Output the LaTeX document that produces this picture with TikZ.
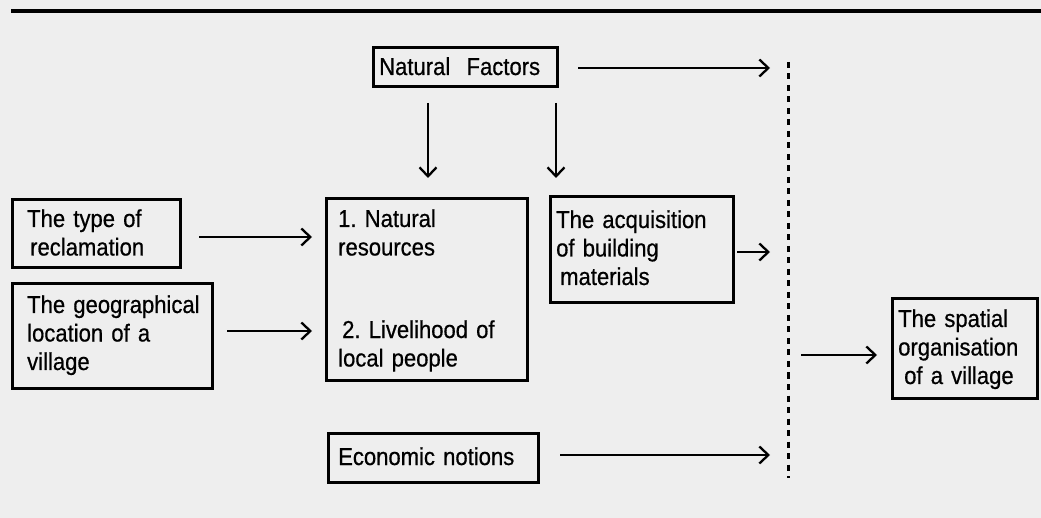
\documentclass[tikz,border=0pt]{standalone}
\usepackage{fontspec}
\setmainfont{Liberation Sans}[FakeStretch=0.9,FakeBold=0.6]
\usetikzlibrary{arrows.meta,calc}
\definecolor{paper}{RGB}{238,238,238}
\frenchspacing
\begin{document}
\begin{tikzpicture}[x=1pt,y=-1pt,
  boxnode/.style={draw=black,line width=3pt,rectangle,inner sep=0pt,outer sep=0pt,anchor=north west},
  txt/.style={anchor=base west,inner sep=0pt,align=left,text width=#1,
    font=\fontsize{24.5}{28.5}\selectfont},
  txt/.default=200pt,
  arr/.style={line width=2.3pt,-{Straight Barb[length=9pt,width=17pt,line width=2.3pt]}},
  rule/.style={line width=3.4pt},
  divider/.style={line width=3pt,dash pattern=on 6pt off 5.5pt}]
\fill[paper] (0,0) rectangle (1041,518);
\useasboundingbox (0,0) rectangle (1041,518);
% top rule
\coordinate (rl) at (11,11);
\coordinate (rr) at (1041,11);
\draw[rule] (rl) -- (rr);
% boxes
\node[boxnode,minimum width=184pt,minimum height=39pt] (nf) at (373,48) {};
\node[boxnode,minimum width=168pt,minimum height=68pt] (type) at (12,200) {};
\node[boxnode,minimum width=200pt,minimum height=104pt] (geo) at (12,284) {};
\node[boxnode,minimum width=201pt,minimum height=181pt] (mid) at (326,199) {};
\node[boxnode,minimum width=183pt,minimum height=106pt] (acq) at (550,197) {};
\node[boxnode,minimum width=145pt,minimum height=99pt] (spat) at (892,299) {};
\node[boxnode,minimum width=210pt,minimum height=49pt] (econ) at (328,433) {};
% texts
\node[txt] (nft) at (379,75) {Natural\ \ Factors};
\node[txt] (typet) at (27,227) {The type of\\\hspace*{3pt}reclamation};
\node[txt] (geot) at (27,313) {The geographical\\location of a\\village};
\node[txt] (midt1) at (338,227) {1. Natural\\resources};
\node[txt] (midt2) at (338,338) {\hspace*{4pt}2. Livelihood of\\local people};
\node[txt] (acqt) at (556,228) {The acquisition\\of building\\\hspace*{4pt}materials};
\node[txt] (spatt) at (898,327) {The spatial\\organisation\\\hspace*{6pt}of a village};
\node[txt] (econt) at (338,465) {Economic notions};
% dashed divider
\coordinate (dtop) at (788,62);
\coordinate (dbot) at (788,478);
\draw[divider] (dtop) -- (dbot);
% connectors
\draw[arr] ($(nf.east)+(21,0.5)$) -- ($(nf.east -| dtop)+(-18,0.5)$);
\draw[arr] ($(nf.south west)+(55,16)$) -- ($(mid.north west)+(102,-21)$);
\draw[arr] ($(nf.south east)+(-1,16)$) -- ($(acq.north west)+(6,-19)$);
\draw[arr] ($(type.east)+(19,3)$) -- ($(mid.west |- type.east)+(-14,3)$);
\draw[arr] ($(geo.east)+(15,-5)$) -- ($(mid.west |- geo.east)+(-14,-5)$);
\draw[arr] ($(acq.east)+(4,2)$) -- ($(acq.east -| dtop)+(-18,2)$);
\draw[arr] ($(spat.west -| dtop)+(13,6.5)$) -- ($(spat.west)+(-15,6.5)$);
\draw[arr] ($(econ.east)+(22,-2.5)$) -- ($(econ.east -| dtop)+(-18,-2.5)$);
\end{tikzpicture}
\end{document}
